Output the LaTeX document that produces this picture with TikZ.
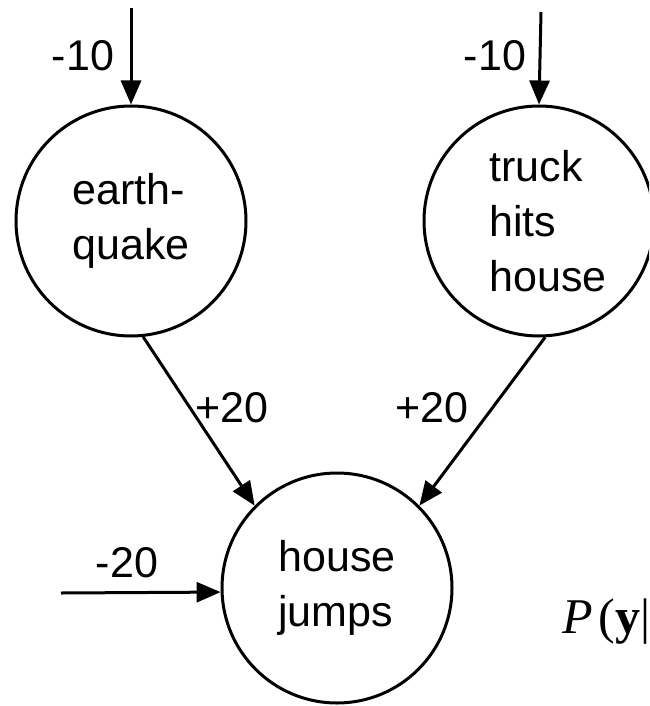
\documentclass[tikz,border=0pt]{standalone}
\usepackage{fontspec}
\setmainfont{Liberation Sans}
\newfontfamily\formfont{Liberation Serif}
\usepackage{amsmath}
\usepackage{tikz}
\usetikzlibrary{arrows.meta, positioning, calc}
\tikzset{
  event/.style={circle, draw, line width=3pt, minimum size=230pt,
    align=left, inner sep=0pt, font=\fontsize{43}{55}\selectfont},
  wt/.style={inner sep=0pt, font=\fontsize{43}{50}\selectfont},
  arr/.style={-{Triangle[length=24pt, width=20pt]}, line width=3pt},
}

\begin{document}
\begin{tikzpicture}[x=1pt, y=-1pt]
  \clip (0,0) rectangle (649,706);
  % events
  \node[event] (eq) at (131,221) {earth-\\quake};
  \node[event] (tr) at (539,221) {\hspace*{18pt}truck\\\hspace*{18pt}hits\\\hspace*{18pt}house};
  \node[event] (hj) at (337,588) {house\\jumps};
  % bias inputs
  \coordinate (in1) at (131,8);
  \coordinate (in2) at (541,12);
  \coordinate (in3) at (61,593);
  \draw[arr] (in1) -- (eq.north);
  \draw[arr] (in2) -- (tr.north);
  \draw[arr] (in3) -- (hj.182);
  % links
  \draw[arr] (eq.-84) -- (hj.135);
  \draw[arr] (tr.-87) -- (hj.45);
  % weights
  \node[wt] (w1) at (83,56) {-10};
  \node[wt] (w2) at (495,56) {-10};
  \node[wt] (w3) at (232,408) {+20};
  \node[wt] (w4) at (432,408) {+20};
  \node[wt] (w5) at (127,563) {-20};
  % cut-off formula
  \node[anchor=base west, inner sep=0pt, font=\formfont\fontsize{50}{52}\selectfont] (py) at (562,633) {\textit{P}\kern6pt(\textbf{y}|};
\end{tikzpicture}
\end{document}
